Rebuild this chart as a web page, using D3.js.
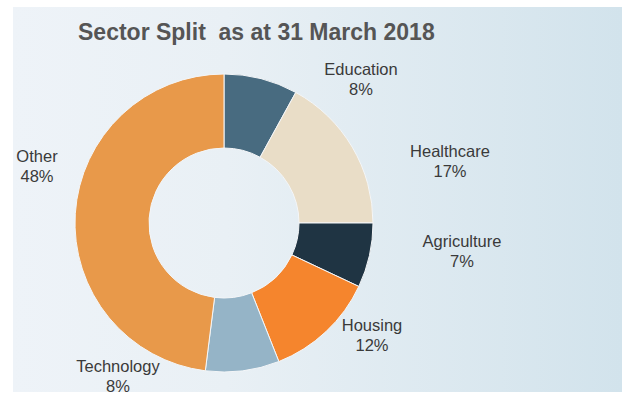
<!DOCTYPE html>
<html>
<head>
<meta charset="utf-8">
<script src="https://cdn.jsdelivr.net/npm/d3@7"></script>
<style>
  html, body { margin: 0; padding: 0; background: #ffffff; }
  svg { display: block; }
  text { font-family: "Liberation Sans", Arial, sans-serif; }
</style>
</head>
<body>
<svg id="chart" width="632" height="399"></svg>
<script>
// Sector split data
const sectors = ["Education", "Healthcare", "Agriculture", "Housing", "Technology", "Other"];
const shares = [8, 17, 7, 12, 8, 48];
const sectorColors = ["#486b80", "#e9ddc7", "#1f3443", "#f5852d", "#95b4c7", "#e8994a"];
const title = "Sector Split  as at 31 March 2018";

// Label anchor points: centre x and baseline of the first line, in chart pixels
const labelAnchors = {
  Education:   [361, 75],
  Healthcare:  [450, 157],
  Agriculture: [462, 247],
  Housing:     [372, 331],
  Technology:  [118, 372],
  Other:       [37, 162]
};
const lineGap = 20;

const svg = d3.select("#chart");

// Panel background with a soft horizontal gradient
const defs = svg.append("defs");
const grad = defs.append("linearGradient").attr("id", "panelGrad")
  .attr("x1", "0%").attr("x2", "100%").attr("y1", "0%").attr("y2", "0%");
grad.append("stop").attr("offset", "0%").attr("stop-color", "#eef3f8");
grad.append("stop").attr("offset", "35%").attr("stop-color", "#e9f0f5");
grad.append("stop").attr("offset", "100%").attr("stop-color", "#d2e3ec");

svg.append("rect")
  .attr("x", 13).attr("y", 7).attr("width", 609).attr("height", 385)
  .attr("fill", "url(#panelGrad)");

// Title
svg.append("text")
  .attr("x", 78).attr("y", 40)
  .attr("font-size", 23).attr("font-weight", "bold")
  .attr("fill", "#555555")
  .attr("xml:space", "preserve")
  .style("white-space", "pre")
  .text(title);

// Donut
const cx = 224, cy = 223, rOuter = 149, rInner = 75;
const data = sectors.map((s, i) => ({ name: s, value: shares[i], color: sectorColors[i] }));
const pie = d3.pie().value(d => d.value).sort(null);
const arc = d3.arc().innerRadius(rInner).outerRadius(rOuter);

const g = svg.append("g").attr("transform", `translate(${cx},${cy})`);
g.selectAll("path")
  .data(pie(data))
  .join("path")
  .attr("d", arc)
  .attr("fill", d => d.data.color)
  .attr("stroke", "#f4f6f8")
  .attr("stroke-width", 1);

// Category labels with percentage
const labels = svg.append("g");
data.forEach(d => {
  const [lx, ly] = labelAnchors[d.name];
  const t = labels.append("text")
    .attr("text-anchor", "middle")
    .attr("font-size", 16.5)
    .attr("fill", "#3a3a3a");
  t.append("tspan").attr("x", lx).attr("y", ly).text(d.name);
  t.append("tspan").attr("x", lx).attr("y", ly + lineGap).text(d.value + "%");
});
</script>
</body>
</html>
